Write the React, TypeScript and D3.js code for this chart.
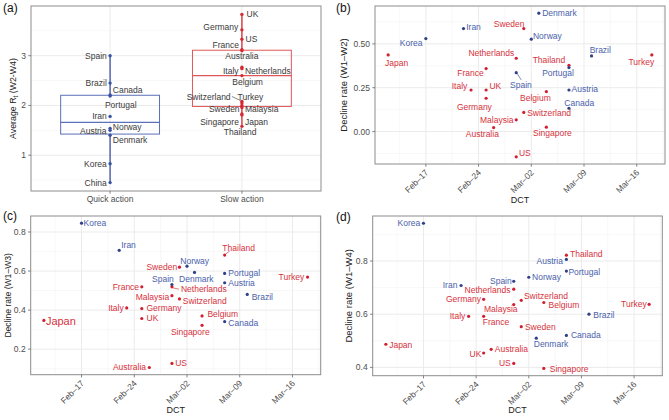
import React from 'react';
import * as d3 from 'd3';

// ---------------- DATA ----------------
const groupCategories = ['Quick action', 'Slow action'];
const quickCountries = ['Spain', 'Brazil', 'Canada', 'Portugal', 'Iran', 'Norway', 'Austria', 'Denmark', 'Korea', 'China'];
const quickRt = [3.0, 2.45, 2.21, 2.19, 1.78, 1.54, 1.5, 1.4, 0.83, 0.45];
const slowCountries = ['UK', 'Germany', 'US', 'France', 'Australia', 'Italy', 'Netherlands', 'Belgium', 'Switzerland', 'Turkey', 'Sweden', 'Malaysia', 'Singapore', 'Japan', 'Thailand'];
const slowRt = [3.83, 3.52, 3.33, 3.12, 3.1, 2.77, 2.74, 2.6, 2.08, 2.05, 2.0, 1.96, 1.83, 1.81, 1.58];

const countries = ['Japan', 'Korea', 'Iran', 'Italy', 'France', 'UK', 'Germany', 'Australia', 'Netherlands', 'Malaysia', 'US', 'Spain', 'Sweden', 'Switzerland', 'Norway', 'Denmark', 'Belgium', 'Singapore', 'Thailand', 'Portugal', 'Austria', 'Canada', 'Brazil', 'Turkey'];
const groups = ['slow', 'quick', 'quick', 'slow', 'slow', 'slow', 'slow', 'slow', 'slow', 'slow', 'slow', 'quick', 'slow', 'slow', 'quick', 'quick', 'slow', 'slow', 'slow', 'quick', 'quick', 'quick', 'quick', 'slow'];
const dct = ['2020-02-12', '2020-02-17', '2020-02-22', '2020-02-23', '2020-02-25', '2020-02-25', '2020-02-25', '2020-02-26', '2020-02-29', '2020-02-29', '2020-02-29', '2020-02-29', '2020-03-01', '2020-03-01', '2020-03-02', '2020-03-03', '2020-03-04', '2020-03-04', '2020-03-07', '2020-03-07', '2020-03-07', '2020-03-07', '2020-03-10', '2020-03-18'];
const declineW2 = [0.437, 0.53, 0.587, 0.237, 0.359, 0.237, 0.19, 0.023, 0.418, 0.067, -0.144, 0.336, 0.587, 0.109, 0.527, 0.675, 0.228, 0.025, 0.378, 0.365, 0.237, 0.133, 0.431, 0.437];
const declineW3 = [0.347, 0.845, 0.706, 0.411, 0.519, 0.357, 0.408, 0.106, 0.519, 0.474, 0.127, 0.531, 0.62, 0.457, 0.625, 0.593, 0.37, 0.322, 0.682, 0.588, 0.54, 0.341, 0.48, 0.569];
const declineW4 = [0.487, 0.942, 0.708, 0.592, 0.592, 0.454, 0.656, 0.468, 0.694, 0.636, 0.415, 0.724, 0.553, 0.652, 0.739, 0.51, 0.644, 0.396, 0.822, 0.762, 0.806, 0.52, 0.6, 0.637];

const rtTicks = [1, 2, 3];
const yTicksB = [0, 0.25, 0.5];
const yTicksC = [0.2, 0.4, 0.6, 0.8];
const yTicksD = [0.4, 0.6, 0.8];

// ---------------- STYLE / LAYOUT ----------------
const FONT = "'Liberation Sans', Arial, Helvetica, sans-serif";
const BLUE_PT = '#2e4187';
const BLUE_LB = '#4a62ab';
const RED_PT = '#d11f2f';
const RED_LB = '#d6323c';
const GRID = '#ebebeb';
const GRID_MINOR = '#f3f3f3';
const BORDER = '#8c8c8c';
const TICKTXT = '#4d4d4d';

type Anchor = 'start' | 'end' | 'middle';
type Off = [number, number, Anchor, number?, number?];

const offA: Record<string, Off> = {
  Spain: [-3.3, 0, 'end'], Brazil: [-3.3, 0, 'end'], Canada: [2.7, -5, 'start'], Portugal: [10.7, 8.6, 'middle'],
  Iran: [-3.3, 0, 'end'], Norway: [2.7, -1.4, 'start'], Austria: [-3.6, 0.4, 'end'], Denmark: [2.7, 5, 'start'],
  Korea: [-3.3, 0, 'end'], China: [-3.3, 0, 'end'],
  UK: [4.7, -0.7, 'start'], Germany: [-3.6, -2.4, 'end'], US: [3.7, 0, 'start'], France: [-3, -4.6, 'end'],
  Australia: [0, 5.6, 'middle'], Italy: [-3.3, 4, 'end'], Netherlands: [3, 2.5, 'start'], Belgium: [5.7, 6.6, 'middle'],
  Switzerland: [-11.3, -4.7, 'end', -10, -5], Turkey: [-4.3, -6.1, 'start'], Sweden: [-2.3, 3.4, 'end'],
  Malaysia: [3, 1.4, 'start'], Singapore: [-3, 7.8, 'end'], Japan: [3, 6.8, 'start'], Thailand: [-1.8, 6, 'middle'],
};

const offB: Record<string, Off> = {
  Japan: [8.4, 8, 'middle'], Korea: [-3.3, 4.6, 'end'], Iran: [2.7, -1.4, 'start'], Sweden: [0.7, -4.7, 'end'],
  Denmark: [3.4, 0, 'start'], Norway: [1.7, -3.3, 'start'], Netherlands: [-2, -5, 'end'], Thailand: [-3.7, -5.3, 'end'],
  Portugal: [-11, 5, 'middle'], Brazil: [8.7, -6, 'middle'], Turkey: [-10.5, 6.7, 'middle'], France: [-2.4, 4, 'end'],
  Spain: [4.7, 12.6, 'middle', 5, 7.3], Italy: [-3.7, -4.3, 'end'], UK: [3.3, -4.3, 'start'], Germany: [-11.7, 8.4, 'middle'],
  Belgium: [-11, 6, 'middle'], Austria: [2.6, -1.3, 'start'], Canada: [10.3, -5, 'middle'], Switzerland: [3.4, 0.6, 'start'],
  Malaysia: [-2.7, 0, 'end'], Australia: [-11.3, 6.6, 'middle'], Singapore: [6, 6, 'middle'], US: [2.7, -3.7, 'start'],
};

const offC: Record<string, Off> = {
  Korea: [2, 0, 'start'], Iran: [2, -5.6, 'start'], Thailand: [14, -7, 'middle', 5, -4], Norway: [7.7, -5.3, 'middle'],
  Sweden: [-2.3, 0, 'end'], Denmark: [1.8, 6.4, 'middle'], Portugal: [3.7, 0, 'start'], Austria: [3.7, 0.3, 'start'],
  Turkey: [-3.3, 0, 'end'], Spain: [-9, -5.6, 'middle'], France: [-2.7, 0, 'end'], Netherlands: [9, 2, 'start', 7, 2.3],
  Brazil: [4.4, 2.4, 'start'], Malaysia: [-2.7, 1, 'end'], Switzerland: [3.3, 1.6, 'start'], Italy: [-3, 0, 'end'],
  Germany: [4.7, -1, 'start'], UK: [4.7, 0, 'start'], Japan: [2, 1, 'start'], Belgium: [5.4, -1.7, 'start'],
  Canada: [3.7, 1, 'start'], Singapore: [-11.8, 6.3, 'middle'], Australia: [-3.3, 0, 'end'], US: [3.3, 0, 'start'],
};

const offD: Record<string, Off> = {
  Korea: [-3.3, 0, 'end'], Thailand: [3.6, -1.3, 'start'], Austria: [-3.4, 1.3, 'end'], Portugal: [2, 0.6, 'start'],
  Norway: [3.3, 0, 'start'], Spain: [-2, -0.7, 'end'], Iran: [-3.7, -0.7, 'end'], Netherlands: [-3.3, 0.3, 'end'],
  Switzerland: [2.7, -4.7, 'start'], Germany: [-2.7, 0, 'end'], Turkey: [-2.4, -0.4, 'end'], Belgium: [4.7, 2.3, 'start'],
  Malaysia: [-13, 4.7, 'middle'], Brazil: [4.3, 0.7, 'start'], Italy: [-3.3, 0, 'end'], France: [12.3, 6, 'middle'],
  Sweden: [3.7, 0.7, 'start'], Canada: [4.6, 0, 'start'], Denmark: [14.7, 6, 'middle'], Japan: [3.3, 0.7, 'start'],
  Australia: [3.7, 0, 'start'], UK: [-2.3, 0.7, 'end'], US: [-3, 0, 'end'], Singapore: [6, 0.3, 'start'],
};

type Frame = { l: number; r: number; t: number; b: number };

function minorsOf(ticks: number[], lo: number, hi: number) {
  const step = ticks[1] - ticks[0];
  const out: number[] = [];
  for (let v = ticks[0] - step / 2; v <= hi; v += step) if (v >= lo) out.push(v);
  return out;
}

function expand(ext: [number, number]): [number, number] {
  const s = ext[1] - ext[0];
  return [ext[0] - 0.05 * s, ext[1] + 0.05 * s];
}

function PanelA() {
  const f: Frame = { l: 31, r: 321, t: 6, b: 191 };
  const all = quickRt.concat(slowRt);
  const y = d3.scaleLinear().domain(expand(d3.extent(all) as [number, number])).range([f.b, f.t]);
  const x = d3.scalePoint<string>().domain(groupCategories).range([f.l, f.r]).padding(0.6);
  const step = x.step();
  const boxW = step * 0.75;
  const minors = minorsOf(rtTicks, y.domain()[0], y.domain()[1]);
  const sets = [
    { cat: groupCategories[0], names: quickCountries, vals: quickRt, pt: '#3b52a3', box: '#5b70b8' },
    { cat: groupCategories[1], names: slowCountries, vals: slowRt, pt: '#d42a33', box: '#e0575b' },
  ];
  return (
    <g>
      {minors.map((v) => <line key={'m' + v} x1={f.l} x2={f.r} y1={y(v)} y2={y(v)} stroke={GRID_MINOR} strokeWidth={0.6} />)}
      {rtTicks.map((v) => <line key={'g' + v} x1={f.l} x2={f.r} y1={y(v)} y2={y(v)} stroke={GRID} strokeWidth={1} />)}
      {groupCategories.map((c) => <line key={'gx' + c} x1={x(c)} x2={x(c)} y1={f.t} y2={f.b} stroke={GRID} strokeWidth={1} />)}
      {sets.map((s) => {
        const sorted = s.vals.slice().sort(d3.ascending);
        const q1 = d3.quantile(sorted, 0.25)!;
        const med = d3.quantile(sorted, 0.5)!;
        const q3 = d3.quantile(sorted, 0.75)!;
        const iqr = q3 - q1;
        const hi = d3.max(sorted.filter((v) => v <= q3 + 1.5 * iqr))!;
        const lo = d3.min(sorted.filter((v) => v >= q1 - 1.5 * iqr))!;
        const cx = x(s.cat)!;
        return (
          <g key={s.cat}>
            <line x1={cx} x2={cx} y1={y(q3)} y2={y(hi)} stroke={s.pt} strokeWidth={1.3} />
            <line x1={cx} x2={cx} y1={y(q1)} y2={y(lo)} stroke={s.pt} strokeWidth={1.3} />
            <rect x={cx - boxW / 2} y={y(q3)} width={boxW} height={y(q1) - y(q3)} fill="white" fillOpacity={0} stroke={s.box} strokeWidth={1} />
            <line x1={cx - boxW / 2} x2={cx + boxW / 2} y1={y(med)} y2={y(med)} stroke={s.box} strokeWidth={1.3} />
            {s.vals.map((v, i) => <circle key={i} cx={cx} cy={y(v)} r={1.7} fill={s.pt} />)}
            {s.names.map((n, i) => {
              const o = offA[n];
              const px = cx, py = y(s.vals[i]);
              return (
                <g key={n}>
                  {o[3] !== undefined && <line x1={px + o[3]!} y1={py + o[4]!} x2={px - 1.5} y2={py - 1} stroke="#3a3a3a" strokeWidth={0.6} />}
                  <text x={px + o[0]} y={py + o[1]} textAnchor={o[2]} dominantBaseline="central" fontSize={8.5} fill="#3a3a3a">{n}</text>
                </g>
              );
            })}
          </g>
        );
      })}
      <rect x={f.l} y={f.t} width={f.r - f.l} height={f.b - f.t} fill="none" stroke={BORDER} strokeWidth={1} />
      {rtTicks.map((v) => (
        <g key={'t' + v}>
          <line x1={f.l - 2.7} x2={f.l} y1={y(v)} y2={y(v)} stroke="#666" strokeWidth={0.8} />
          <text x={f.l - 5} y={y(v)} textAnchor="end" dominantBaseline="central" fontSize={8.5} fill={TICKTXT}>{v}</text>
        </g>
      ))}
      {groupCategories.map((c) => (
        <g key={'xt' + c}>
          <line x1={x(c)} x2={x(c)} y1={f.b} y2={f.b + 2.7} stroke="#666" strokeWidth={0.8} />
          <text x={x(c)} y={f.b + 11} textAnchor="middle" fontSize={8.5} fill={TICKTXT}>{c}</text>
        </g>
      ))}
      <text transform={`translate(12.5,${(f.t + f.b) / 2}) rotate(-90)`} textAnchor="middle" dominantBaseline="central" fontSize={8.8} fill="#222">
        Average R<tspan dy={2} fontSize={6.5}>t</tspan><tspan dy={-2}>{'  (W2-W4)'}</tspan>
      </text>
      <text x={3} y={11.5} fontSize={12} fill="#111">(a)</text>
    </g>
  );
}

type SP = {
  f: Frame; values: number[]; yTicks: number[]; yFmt: string; offs: Record<string, Off>;
  tag: string; tagX: number; tagY: number; title: string; titleX: number; titleSize: number; dctY: number;
};

function ScatterPanel(p: SP) {
  const { f } = p;
  const parse = d3.utcParse('%Y-%m-%d');
  const dates = dct.map((s) => parse(s)!);
  const dExt = d3.extent(dates) as [Date, Date];
  const dSpan = +dExt[1] - +dExt[0];
  const x = d3.scaleUtc().domain([new Date(+dExt[0] - 0.05 * dSpan), new Date(+dExt[1] + 0.05 * dSpan)]).range([f.l, f.r]);
  const y = d3.scaleLinear().domain(expand(d3.extent(p.values) as [number, number])).range([f.b, f.t]);
  const xt = x.ticks(d3.utcMonday.every(1)!);
  const halfWeek = 3.5 * 864e5;
  const xMinor = [+xt[0] - halfWeek, ...xt.map((d) => +d + halfWeek)].filter((v) => v >= +x.domain()[0] && v <= +x.domain()[1]);
  const yMinor = minorsOf(p.yTicks, y.domain()[0], y.domain()[1]);
  const fmtX = d3.utcFormat('%b\u2013%d');
  const fmtY = d3.format(p.yFmt);
  return (
    <g>
      {yMinor.map((v) => <line key={'ym' + v} x1={f.l} x2={f.r} y1={y(v)} y2={y(v)} stroke={GRID_MINOR} strokeWidth={0.6} />)}
      {xMinor.map((v) => <line key={'xm' + v} x1={x(new Date(v))} x2={x(new Date(v))} y1={f.t} y2={f.b} stroke={GRID_MINOR} strokeWidth={0.6} />)}
      {p.yTicks.map((v) => <line key={'yg' + v} x1={f.l} x2={f.r} y1={y(v)} y2={y(v)} stroke={GRID} strokeWidth={1} />)}
      {xt.map((d) => <line key={'xg' + +d} x1={x(d)} x2={x(d)} y1={f.t} y2={f.b} stroke={GRID} strokeWidth={1} />)}
      <rect x={f.l} y={f.t} width={f.r - f.l} height={f.b - f.t} fill="none" stroke={BORDER} strokeWidth={1} />
      {countries.map((c, i) => {
        const px = x(dates[i]);
        const py = y(p.values[i]);
        const quick = groups[i] === 'quick';
        const o = p.offs[c];
        const big = p.tag === '(c)' && c === 'Japan';
        return (
          <g key={c}>
            {o[3] !== undefined && <line x1={px + 1} y1={py + (o[4]! > 0 ? 1 : -1)} x2={px + o[3]!} y2={py + o[4]!} stroke={quick ? BLUE_PT : RED_PT} strokeWidth={0.6} />}
            <circle cx={px} cy={py} r={1.6} fill={quick ? BLUE_PT : RED_PT} />
            <text x={px + o[0]} y={py + o[1]} textAnchor={o[2]} dominantBaseline="central" fontSize={big ? 11 : 8.5} fill={quick ? BLUE_LB : RED_LB}>{c}</text>
          </g>
        );
      })}
      {p.yTicks.map((v) => (
        <g key={'yt' + v}>
          <line x1={f.l - 2.7} x2={f.l} y1={y(v)} y2={y(v)} stroke="#666" strokeWidth={0.8} />
          <text x={f.l - 5} y={y(v)} textAnchor="end" dominantBaseline="central" fontSize={8.5} fill={TICKTXT}>{fmtY(v)}</text>
        </g>
      ))}
      {xt.map((d) => (
        <g key={'xt' + +d}>
          <line x1={x(d)} x2={x(d)} y1={f.b} y2={f.b + 2.7} stroke="#666" strokeWidth={0.8} />
          <text transform={`translate(${x(d) + 1},${f.b + 7}) rotate(-45)`} textAnchor="end" dominantBaseline="central" fontSize={8.5} fill={TICKTXT}>{fmtX(d)}</text>
        </g>
      ))}
      <text x={(f.l + f.r) / 2} y={p.dctY} textAnchor="middle" fontSize={9} fill="#222">DCT</text>
      <text transform={`translate(${p.titleX},${(f.t + f.b) / 2}) rotate(-90)`} textAnchor="middle" dominantBaseline="central" fontSize={p.titleSize} fill="#222">{p.title}</text>
      <text x={p.tagX} y={p.tagY} fontSize={12} fill="#111">{p.tag}</text>
    </g>
  );
}

export default function App() {
  return (
    <svg width={669} height={420} style={{ position: 'absolute', left: 0, top: 0, fontFamily: FONT, background: 'white' }}>
      <rect x={0} y={0} width={669} height={420} fill="white" />
      <PanelA />
      <ScatterPanel f={{ l: 375, r: 665, t: 6, b: 164 }} values={declineW2} yTicks={yTicksB} yFmt=".2f" offs={offB}
        tag="(b)" tagX={336} tagY={11.5} title={'Decline rate (W1\u2013W2)'} titleX={343.5} titleSize={9.5} dctY={203} />
      <ScatterPanel f={{ l: 30.7, r: 320.7, t: 216, b: 374.7 }} values={declineW3} yTicks={yTicksC} yFmt=".1f" offs={offC}
        tag="(c)" tagX={3} tagY={220} title={'Decline rate (W1\u2013W3)'} titleX={7.5} titleSize={8.6} dctY={413} />
      <ScatterPanel f={{ l: 372.7, r: 662.3, t: 216, b: 375.7 }} values={declineW4} yTicks={yTicksD} yFmt=".1f" offs={offD}
        tag="(d)" tagX={336} tagY={221} title={'Decline rate (W1\u2013W4)'} titleX={348.5} titleSize={9.5} dctY={413} />
    </svg>
  );
}
